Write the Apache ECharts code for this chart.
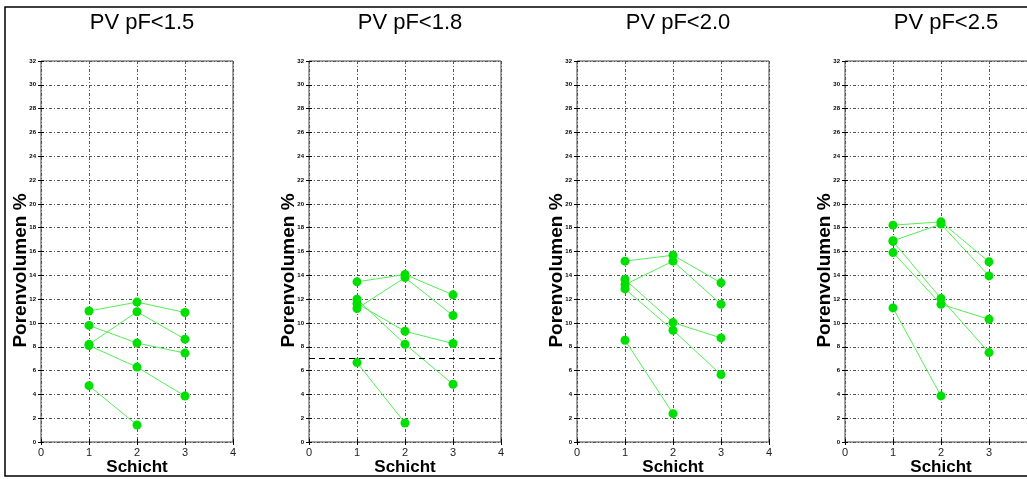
<!DOCTYPE html>
<html>
<head>
<meta charset="utf-8">
<script src="https://cdn.jsdelivr.net/npm/echarts@6/dist/echarts.min.js"></script>
<style>html,body{margin:0;padding:0;background:#fff;}#c{width:1027px;height:479px;}</style>
</head>
<body>
<div id="c"></div>
<script>
// ---- data ----
const schicht = [1, 2, 3];
const panelTitles = ['PV pF<1.5', 'PV pF<1.8', 'PV pF<2.0', 'PV pF<2.5'];
const xTickLabels = ['0', '1', '2', '3', '4'];
const yName = 'Porenvolumen %';
const xName = 'Schicht';
// each row: values at Schicht 1, 2, 3 (null = no value)
const pf15 = [
  [11.0, 11.75, 10.88],
  [8.2, 10.94, 8.64],
  [9.79, 8.31, 7.47],
  [8.1, 6.29, 3.86],
  [4.73, 1.43, null]
];
const pf18 = [
  [13.45, 14.07, 12.36],
  [11.21, 13.81, 10.62],
  [11.63, 9.30, 8.27],
  [11.99, 8.21, 4.85],
  [6.67, 1.60, null]
];
const pf20 = [
  [15.19, 15.69, 13.37],
  [13.22, 15.19, 11.57],
  [13.65, 10.03, 8.74],
  [12.86, 9.39, 5.66],
  [8.55, 2.38, null]
];
const pf25 = [
  [18.21, 18.49, 15.13],
  [16.90, 18.30, 13.95],
  [16.85, 12.05, 7.51],
  [15.91, 11.57, 10.31],
  [11.26, 3.87, null]
];
const panels = [pf15, pf18, pf20, pf25];
const refLine = [null, 7, null, null]; // dashed reference line per panel

// ---- layout / style ----
const GL = 41, GSTEP = 268, GT = 61, GW = 192, GH = 381;
const grids = [], xAxes = [], yAxes = [], series = [], titles = [];
const tickStyle = {show: true, inside: true, length: 3, lineStyle: {color: '#000', width: 1}};
const gridLine = {show: true, lineStyle: {color: '#555', width: 1, type: [3, 2, 1, 2]}};
panels.forEach((rows, i) => {
  const left = GL + GSTEP * i;
  grids.push({left: left, top: GT, width: GW, height: GH, show: true, borderColor: '#444', borderWidth: 1,
    containLabel: false, outerBoundsMode: 'none'});
  titles.push({text: panelTitles[i], left: left + GW / 2, top: 7, textAlign: 'center',
    textStyle: {fontFamily: 'Liberation Sans, Arial', fontSize: 22, fontWeight: 'normal', color: '#000'}});
  xAxes.push({gridIndex: i, type: 'value', min: 0, max: 4, interval: 1, position: 'bottom',
    name: xName, nameLocation: 'middle', nameGap: 17, nameMoveOverlap: false,
    nameTextStyle: {fontFamily: 'Liberation Sans, Arial', fontSize: 17, fontWeight: 'bold', color: '#000'},
    axisLine: {show: false}, axisTick: tickStyle,
    axisLabel: {fontSize: 11, color: '#222', margin: 5, fontFamily: 'Liberation Sans, Arial',
      formatter: v => xTickLabels[v]},
    splitLine: gridLine});
  xAxes.push({gridIndex: i, type: 'value', min: 0, max: 4, interval: 1, position: 'top',
    axisLine: {show: false}, axisTick: tickStyle, axisLabel: {show: false}, splitLine: {show: false}});
  yAxes.push({gridIndex: i, type: 'value', min: 0, max: 32, interval: 2, position: 'left',
    name: yName, nameLocation: 'middle', nameGap: 11, nameMoveOverlap: false,
    nameTextStyle: {fontFamily: 'Liberation Sans, Arial', fontSize: 19, fontWeight: 'bold', color: '#000', padding: [0, 38, 0, 0]},
    axisLine: {show: false}, axisTick: tickStyle,
    axisLabel: {fontSize: 6, fontWeight: 'bold', color: '#000', margin: 5, fontFamily: 'Liberation Sans, Arial'},
    splitLine: gridLine});
  yAxes.push({gridIndex: i, type: 'value', min: 0, max: 32, interval: 2, position: 'right',
    axisLine: {show: false}, axisTick: tickStyle, axisLabel: {show: false}, splitLine: {show: false}});
  rows.forEach((vals, j) => {
    const data = [];
    vals.forEach((v, k) => { if (v !== null) data.push([schicht[k], v]); });
    const s = {type: 'line', xAxisIndex: 2 * i, yAxisIndex: 2 * i, data: data,
      symbol: 'circle', symbolSize: 9, showSymbol: true,
      lineStyle: {color: '#55ee55', width: 1},
      itemStyle: {color: '#00e000', borderWidth: 0},
      emphasis: {disabled: true}, animation: false, z: 3};
    if (j === 0 && refLine[i] !== null) {
      s.markLine = {silent: true, symbol: 'none', label: {show: false},
        lineStyle: {color: '#000', type: [6, 4], width: 1},
        data: [{yAxis: refLine[i]}]};
    }
    series.push(s);
  });
});

const chart = echarts.init(document.getElementById('c'), null, {renderer: 'canvas'});
chart.setOption({
  animation: false,
  backgroundColor: '#fff',
  title: titles,
  grid: grids,
  xAxis: xAxes,
  yAxis: yAxes,
  series: series,
  graphic: [{type: 'rect', shape: {x: 5, y: 7, width: 1040, height: 469},
    style: {fill: 'none', stroke: '#000', lineWidth: 1.5}, silent: true, z: 100}]
});
</script>
</body>
</html>
